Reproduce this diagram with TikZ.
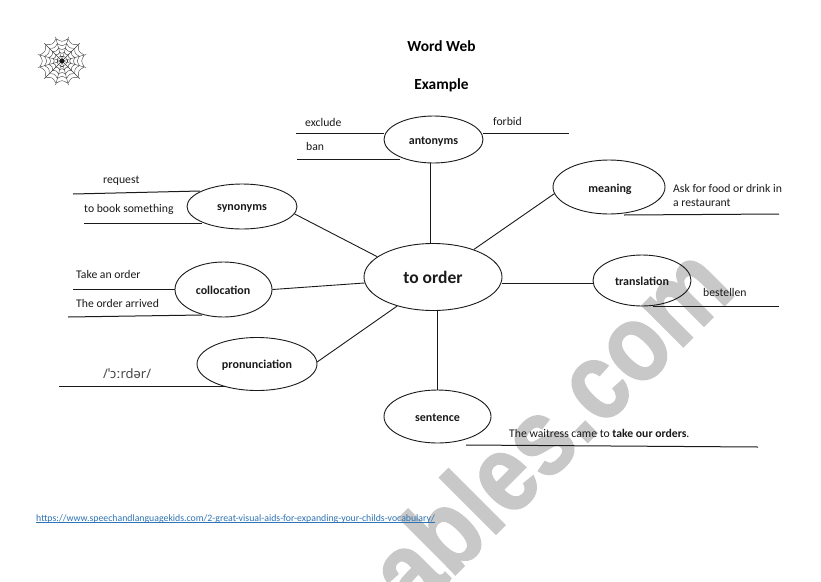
\documentclass[tikz,border=0pt]{standalone}
\usepackage{fontspec}
\setmainfont{Carlito}
\newfontfamily\ipafont{Noto Sans}
\newfontfamily\wmfont[FakeBold=1.5]{Liberation Sans}
\definecolor{wm}{HTML}{C8C8C8}
\definecolor{linkblue}{HTML}{2E74B5}
\definecolor{ink}{HTML}{1A1A1A}
\usetikzlibrary{shapes.geometric,calc}
\tikzset{
  bub/.style={draw=ink,ellipse,line width=.9pt,inner sep=0pt,fill=none},
  lab/.style={font=\fontsize{12}{14}\selectfont\bfseries,text=ink,inner sep=0pt},
  txt/.style={font=\fontsize{11.7}{14}\selectfont,text=ink,inner sep=0pt,anchor=base west},
  ttl/.style={font=\fontsize{15.4}{18}\selectfont\bfseries,text=black,inner sep=0pt},
  conn/.style={draw=ink,line width=.9pt},
  rule/.style={draw=ink,line width=1pt},
  web/.style={draw=ink!85,line width=.4pt}
}
\begin{document}
\begin{tikzpicture}[x=1pt,y=-1pt]
\path[use as bounding box,fill=white] (0,0) rectangle (821,581);
\begin{scope}
\clip (0,0) rectangle (821,581);
\node[rotate=45,xscale=.85,anchor=base west,font=\wmfont\fontsize{110}{110}\selectfont\bfseries,text=wm,inner sep=0pt] (wmark) at (414,616) {ables.com};
\end{scope}
% spider web
\coordinate (wc) at (62,61);
\foreach \a in {0,30,...,330}{
  \draw[web] (wc) -- ++(\a+15:25);
}
\foreach \r in {5,9,13.5,18,23}{
  \foreach \a in {0,30,...,330}{
    \draw[web] ($(wc)+(\a+15:\r)$) .. controls ($(wc)+(\a+30:\r*.82)$) .. ($(wc)+(\a+45:\r)$);
  }
}
\fill[ink] (wc) circle (2.4);
% titles
\node[ttl] (title) at (441.5,46) {Word Web};
\node[ttl] (example) at (441.5,85) {Example};
% bubbles
\node[bub,minimum width=138pt,minimum height=67pt] (order) at (433,277) {};
\node[font=\fontsize{17.5}{20}\selectfont\bfseries,text=ink,inner sep=0pt] (ordertxt) at (433,277.5) {to order};
\node[bub,minimum width=99pt,minimum height=47pt] (ant) at (433.5,139.5) {};
\node[lab] (antt) at (433.5,141.5) {antonyms};
\node[bub,minimum width=112pt,minimum height=54pt] (mean) at (609,187) {};
\node[lab] (meant) at (610,189) {meaning};
\node[bub,minimum width=110pt,minimum height=45pt] (syn) at (242,206.5) {};
\node[lab] (synt) at (242,208.5) {synonyms};
\node[bub,minimum width=97pt,minimum height=55pt] (coll) at (223.5,289.5) {};
\node[lab] (collt) at (223,290.5) {collocation};
\node[bub,minimum width=120pt,minimum height=53pt] (pron) at (257,364) {};
\node[lab] (pront) at (257,365) {pronunciation};
\node[bub,minimum width=98pt,minimum height=51pt] (trans) at (642,280.5) {};
\node[lab] (transt) at (642,281) {translation};
\node[bub,minimum width=107pt,minimum height=53pt] (sent) at (437.5,416.5) {};
\node[lab] (sentt) at (437.5,417.5) {sentence};
% connectors
\draw[conn] (order.south) ++(4.5,0) coordinate (c1) -- (c1 |- sent.north);
\draw[conn] (order.east |- 0,283) -- (trans.west |- 0,283);
\draw[conn] (coll.east) -- (order.185);
\draw[conn] (pron.2) -- (order.219);
\draw[conn] (ant.south) ++(-3.5,0) coordinate (c2) -- (c2 |- order.north);
\draw[conn] (mean.187) -- (order.34);
\draw[conn] (syn.-8) -- (order.160);
% answer rules
\coordinate (r1) at (296,133); \draw[rule] (r1) -- (ant.west |- r1);
\coordinate (r2) at (297,159); \draw[rule] (r2) -- (400,159);
\coordinate (r3) at (569,133); \draw[rule] (r3) -- (ant.east |- r3);
\coordinate (r4) at (73,194); \draw[rule] (r4) -- (200,191);
\coordinate (r5) at (84,223); \draw[rule] (r5) -- (202,223);
\coordinate (r6) at (73,289); \draw[rule] (r6) -- (coll.west |- r6);
\coordinate (r7) at (68,317); \draw[rule] (r7) -- (202,315);
\coordinate (r8) at (59,386); \draw[rule] (r8) -- (225,386);
\coordinate (r9) at (624,215); \draw[rule] (r9) -- (779,214);
\coordinate (r10) at (653,306); \draw[rule] (r10) -- (779,306);
\coordinate (r11) at (466,445); \draw[rule] (r11) -- (758,447);
% answers
\node[txt] (t1) at (305,126) {exclude};
\node[txt] (t2) at (306,150) {ban};
\node[txt] (t3) at (493,125) {forbid};
\node[txt] (t4) at (103,183) {request};
\node[txt] (t5) at (84,212) {to book something};
\node[txt] (t6) at (76,278) {Take an order};
\node[txt] (t7) at (76,307) {The order arrived};
\node[font=\ipafont\fontsize{13}{15}\selectfont,text=ink!80,inner sep=0pt,anchor=base west] (t8) at (103,378) {/ˈɔːrdər/};
\node[txt] (t9) at (673,192) {Ask for food or drink in};
\node[txt] (t9b) at (673,206) {a restaurant};
\node[txt] (t10) at (703,296) {bestellen};
\node[txt] (t11) at (509,437) {The waitress came to \textbf{take our orders}.};
% link
\node[font=\fontsize{9.8}{12}\selectfont,text=linkblue,inner sep=0pt,anchor=base west] (lnk) at (36,521) {https://www.speechandlanguagekids.com/2-great-visual-aids-for-expanding-your-childs-vocabulary/};
\draw[linkblue,line width=.5pt] ([yshift=-1.2pt]lnk.base west) -- ([yshift=-1.2pt]lnk.base east);
\end{tikzpicture}
\end{document}
